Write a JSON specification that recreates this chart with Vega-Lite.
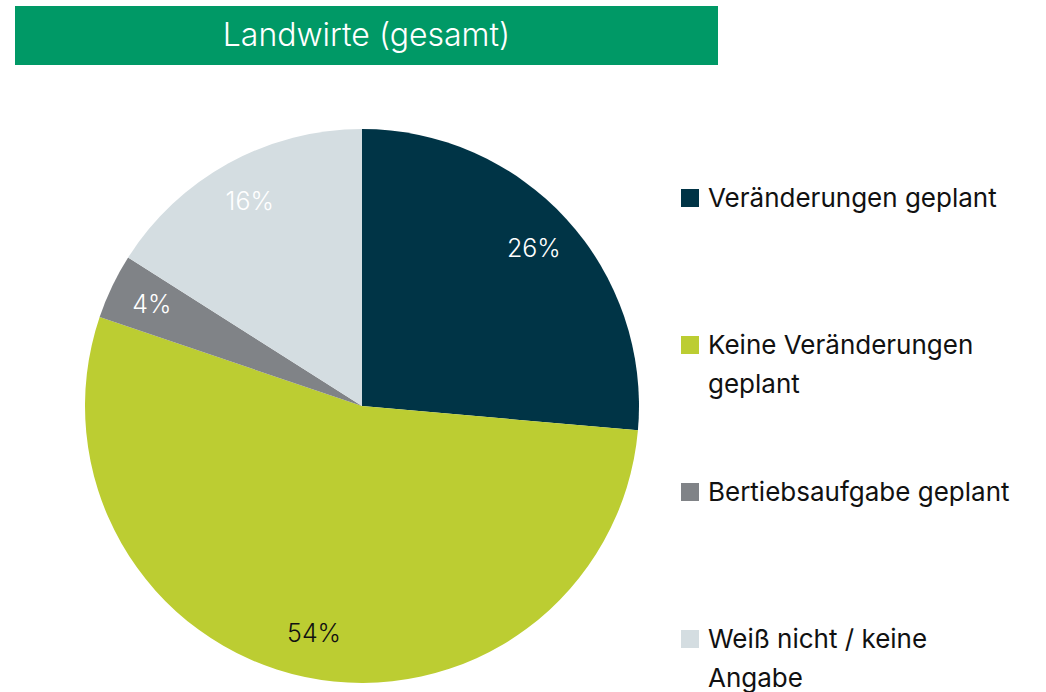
{
  "$schema": "https://vega.github.io/schema/vega-lite/v6.json",
  "background": "white",
  "padding": {"left": 15, "top": 6, "right": 0, "bottom": 0},
  "spacing": 64,
  "config": {"view": {"stroke": null}, "font": "Inter"},
  "vconcat": [
    {
      "width": 703,
      "height": 59,
      "data": {"values": [{"title": "Landwirte (gesamt)"}]},
      "layer": [
        {"mark": {"type": "rect", "color": "#009966"}, "encoding": {}},
        {
          "mark": {"type": "text", "color": "white", "fontSize": 32, "font": "Inter", "fontWeight": 300},
          "encoding": {"text": {"field": "title"}}
        }
      ]
    },
    {
      "width": 694,
      "height": 554,
      "data": {
        "values": [
          {"category": "Veränderungen geplant", "share": 0.264, "idx": 1},
          {"category": "Keine Veränderungen geplant", "share": 0.538, "idx": 2},
          {"category": "Bertiebsaufgabe geplant", "share": 0.038, "idx": 3},
          {"category": "Weiß nicht / keine Angabe", "share": 0.16, "idx": 4}
        ]
      },
      "encoding": {
        "theta": {"field": "share", "type": "quantitative", "stack": true},
        "order": {"field": "idx", "type": "quantitative"}
      },
      "layer": [
        {
          "mark": {"type": "arc", "outerRadius": 277},
          "encoding": {
            "color": {
              "field": "category",
              "type": "nominal",
              "sort": ["Veränderungen geplant", "Keine Veränderungen geplant", "Bertiebsaufgabe geplant", "Weiß nicht / keine Angabe"],
              "scale": {
                "domain": ["Veränderungen geplant", "Keine Veränderungen geplant", "Bertiebsaufgabe geplant", "Weiß nicht / keine Angabe"],
                "range": ["#003446", "#BCCD32", "#808387", "#D4DDE1"]
              },
              "legend": {
                "orient": "none",
                "legendX": 662,
                "legendY": 179,
                "title": null,
                "padding": 0,
                "symbolType": "square",
                "symbolSize": 324,
                "symbolStrokeWidth": 0,
                "labelFont": "Inter",
                "labelFontSize": 26,
                "labelColor": "#111111",
                "labelLimit": 500,
                "labelOffset": 5,
                "labelBaseline": "alphabetic",
                "gridAlign": "all",
                "rowPadding": 81,
                "labelExpr": "datum.label == 'Keine Veränderungen geplant' ? ['Keine Veränderungen', 'geplant'] : datum.label == 'Weiß nicht / keine Angabe' ? ['Weiß nicht / keine', 'Angabe'] : datum.label",
                "encode": {"labels": {"update": {"lineHeight": {"value": 39}, "dy": {"value": 9}}}}
              }
            }
          }
        },
        {
          "mark": {"type": "text", "radius": 233, "fontSize": 25, "font": "Inter", "fontWeight": 300},
          "encoding": {
            "text": {"field": "share", "type": "quantitative", "format": ".0%"},
            "color": {
              "condition": {"test": "datum.category == 'Keine Veränderungen geplant'", "value": "#111111"},
              "value": "#ffffff"
            }
          }
        }
      ]
    }
  ]
}
